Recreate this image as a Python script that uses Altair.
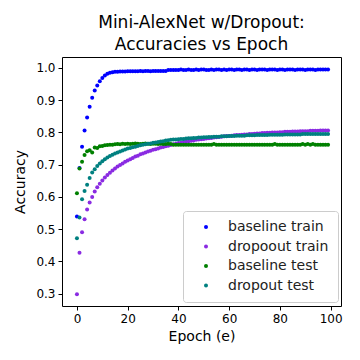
import altair as alt
import pandas as pd

epochs = list(range(100))

baseline_train = [
    0.539, 0.690, 0.756, 0.806, 0.846, 0.880, 0.908, 0.930, 0.946, 0.959,
    0.969, 0.977, 0.982, 0.985, 0.987, 0.988, 0.988, 0.989, 0.989, 0.989,
    0.990, 0.990, 0.990, 0.990, 0.990, 0.991, 0.990, 0.991, 0.991, 0.990,
    0.991, 0.991, 0.991, 0.991, 0.991, 0.991, 0.994, 0.994, 0.994, 0.994,
    0.994, 0.995, 0.994, 0.994, 0.995, 0.994, 0.994, 0.995, 0.994, 0.995,
    0.995, 0.994, 0.994, 0.995, 0.994, 0.995, 0.995, 0.994, 0.995, 0.994,
    0.995, 0.995, 0.994, 0.995, 0.995, 0.994, 0.995, 0.995, 0.994, 0.995,
    0.995, 0.994, 0.995, 0.995, 0.995, 0.994, 0.995, 0.995, 0.995, 0.994,
    0.995, 0.995, 0.994, 0.995, 0.995, 0.995, 0.994, 0.995, 0.995, 0.995,
    0.994, 0.995, 0.995, 0.995, 0.994, 0.995, 0.995, 0.995, 0.995, 0.995,
]

dropout_train = [
    0.298, 0.427, 0.490, 0.531, 0.561, 0.583, 0.600, 0.617, 0.630, 0.641,
    0.651, 0.660, 0.668, 0.675, 0.682, 0.688, 0.694, 0.699, 0.704, 0.709,
    0.713, 0.717, 0.721, 0.725, 0.728, 0.732, 0.735, 0.738, 0.741, 0.743,
    0.746, 0.748, 0.750, 0.753, 0.755, 0.757, 0.759, 0.761, 0.763, 0.765,
    0.767, 0.768, 0.770, 0.771, 0.773, 0.774, 0.775, 0.777, 0.778, 0.779,
    0.780, 0.781, 0.782, 0.783, 0.784, 0.785, 0.786, 0.787, 0.788, 0.789,
    0.789, 0.790, 0.791, 0.792, 0.792, 0.793, 0.794, 0.794, 0.795, 0.795,
    0.796, 0.797, 0.797, 0.798, 0.798, 0.799, 0.799, 0.800, 0.800, 0.800,
    0.801, 0.801, 0.802, 0.802, 0.802, 0.803, 0.803, 0.803, 0.804, 0.804,
    0.804, 0.804, 0.805, 0.805, 0.805, 0.805, 0.806, 0.806, 0.806, 0.806,
]

baseline_test = [
    0.611, 0.688, 0.709, 0.730, 0.742, 0.745, 0.738, 0.753, 0.752, 0.757,
    0.758, 0.760, 0.761, 0.762, 0.762, 0.763, 0.764, 0.763, 0.765, 0.764,
    0.765, 0.764, 0.765, 0.766, 0.765, 0.764, 0.765, 0.766, 0.765, 0.764,
    0.765, 0.765, 0.764, 0.765, 0.764, 0.764, 0.765, 0.764, 0.762, 0.762,
    0.762, 0.762, 0.762, 0.762, 0.762, 0.762, 0.762, 0.762, 0.762, 0.762,
    0.762, 0.762, 0.762, 0.762, 0.764, 0.762, 0.762, 0.762, 0.762, 0.762,
    0.762, 0.762, 0.762, 0.762, 0.762, 0.762, 0.762, 0.762, 0.762, 0.762,
    0.762, 0.762, 0.762, 0.762, 0.762, 0.762, 0.762, 0.762, 0.764, 0.762,
    0.762, 0.762, 0.762, 0.762, 0.762, 0.762, 0.762, 0.762, 0.762, 0.764,
    0.762, 0.764, 0.762, 0.764, 0.762, 0.762, 0.762, 0.762, 0.762, 0.762,
]

dropout_test = [
    0.472, 0.536, 0.593, 0.618, 0.638, 0.659, 0.676, 0.686, 0.696, 0.704,
    0.711, 0.717, 0.722, 0.727, 0.731, 0.735, 0.738, 0.741, 0.744, 0.747,
    0.750, 0.752, 0.754, 0.756, 0.758, 0.760, 0.762, 0.763, 0.765, 0.766,
    0.768, 0.769, 0.770, 0.772, 0.773, 0.775, 0.776, 0.777, 0.778, 0.778,
    0.779, 0.780, 0.780, 0.781, 0.782, 0.782, 0.783, 0.783, 0.784, 0.784,
    0.785, 0.785, 0.786, 0.786, 0.787, 0.787, 0.787, 0.788, 0.788, 0.788,
    0.789, 0.789, 0.789, 0.790, 0.790, 0.790, 0.790, 0.791, 0.791, 0.791,
    0.791, 0.792, 0.792, 0.792, 0.792, 0.792, 0.793, 0.793, 0.793, 0.793,
    0.793, 0.793, 0.794, 0.794, 0.794, 0.794, 0.794, 0.794, 0.794, 0.795,
    0.795, 0.795, 0.795, 0.795, 0.795, 0.795, 0.795, 0.795, 0.795, 0.795,
]

series_names = ["baseline train", "dropoout train", "baseline test", "dropout test"]
series_colors = ["#0000ff", "#8a2be2", "#008000", "#008080"]
series_values = [baseline_train, dropout_train, baseline_test, dropout_test]

rows = []
for order, (name, vals) in enumerate(zip(series_names, series_values)):
    for e, v in zip(epochs, vals):
        rows.append({"epoch": e, "accuracy": v, "series": name, "order": order})
df = pd.DataFrame(rows)

FONT = "DejaVu Sans"

chart = alt.Chart(df).mark_point(filled=True, shape="circle", size=16, opacity=1).encode(
    x=alt.X("epoch:Q",
            scale=alt.Scale(domain=[-5.9, 104.1], nice=False, zero=False),
            axis=alt.Axis(values=[0, 20, 40, 60, 80, 100], title="Epoch (e)", grid=False,
                          tickSize=4, labelPadding=3, titlePadding=5,
                          labelFontSize=12, titleFontSize=14, labelFont=FONT, titleFont=FONT,
                          titleFontWeight="normal", labelColor="black", titleColor="black",
                          tickColor="black", domain=False, labelFlush=False)),
    y=alt.Y("accuracy:Q",
            scale=alt.Scale(domain=[0.2615, 1.0341], nice=False, zero=False),
            axis=alt.Axis(values=[0.3, 0.4, 0.5, 0.6, 0.7, 0.8, 0.9, 1.0], format=".1f",
                          title="Accuracy", grid=False, tickSize=4, labelPadding=3,
                          titlePadding=8, labelFontSize=12, titleFontSize=14,
                          labelFont=FONT, titleFont=FONT, titleFontWeight="normal",
                          labelColor="black", titleColor="black", tickColor="black",
                          domain=False, labelFlush=False)),
    color=alt.Color("series:N",
                    scale=alt.Scale(domain=series_names, range=series_colors),
                    legend=alt.Legend(title=None, orient="none", legendX=121, legendY=154,
                                      labelFontSize=14, labelFont=FONT, labelColor="#222222",
                                      symbolSize=16, symbolType="circle", symbolStrokeWidth=0,
                                      symbolOffset=7, labelOffset=15, rowPadding=5.5,
                                      padding=9, strokeColor="#cccccc", cornerRadius=3,
                                      fillColor="white")),
    order=alt.Order("order:Q"),
).properties(
    width=279,
    height=249,
    title=alt.TitleParams(["Mini-AlexNet w/Dropout:", "Accuracies vs Epoch"],
                          font=FONT, fontSize=17, fontWeight="normal", color="black",
                          anchor="middle", lineHeight=22, offset=3),
    autosize=alt.AutoSizeParams(type="none"),
    padding={"left": 54, "top": 49, "right": 10, "bottom": 40},
).configure_view(
    stroke="black", strokeWidth=1
)

chart.save("out.html", embed_options={"renderer": "svg", "actions": False})
